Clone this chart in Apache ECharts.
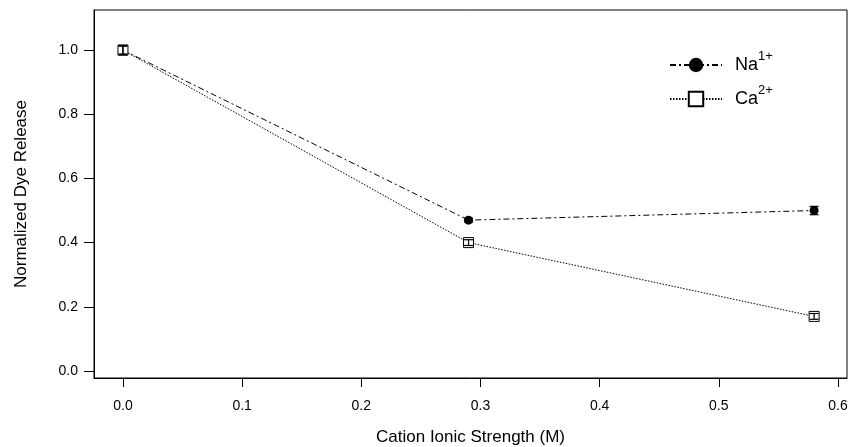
<!DOCTYPE html>
<html lang="en">
<head>
  <meta charset="utf-8">
  <title>Dye Release</title>
  <script src="https://cdn.jsdelivr.net/npm/echarts@6/dist/echarts.min.js"></script>
  <style>
    html, body { margin: 0; padding: 0; background: #fff; }
    #main { width: 853px; height: 447px; }
  </style>
</head>
<body>
  <div id="main"></div>
  <script>
    // data
    var ionicStrength = [0.0, 0.29, 0.58];
    var naRelease = [1.0, 0.47, 0.50];
    var naError = [0.015, 0.006, 0.013];
    var caRelease = [1.0, 0.40, 0.17];
    var caError = [0.012, 0.009, 0.009];
    var xTicks = [0.0, 0.1, 0.2, 0.3, 0.4, 0.5, 0.6];
    var yTicks = [0.0, 0.2, 0.4, 0.6, 0.8, 1.0];

    var myChart = echarts.init(document.getElementById('main'));
    var font = 'Liberation Sans';

    function pairs(ys) {
      return ionicStrength.map(function (x, i) { return [x, ys[i]]; });
    }
    function errData(ys, es) {
      return ionicStrength.map(function (x, i) { return [x, ys[i] - es[i], ys[i] + es[i]]; });
    }
    // error bars: vertical line with caps
    function errRender(params, api) {
      var lo = api.coord([api.value(0), api.value(1)]);
      var hi = api.coord([api.value(0), api.value(2)]);
      var w = 4.5;
      var st = { stroke: '#000', lineWidth: 1.2 };
      return {
        type: 'group',
        children: [
          { type: 'line', shape: { x1: lo[0], y1: lo[1], x2: hi[0], y2: hi[1] }, style: st },
          { type: 'line', shape: { x1: lo[0] - w, y1: lo[1], x2: lo[0] + w, y2: lo[1] }, style: st },
          { type: 'line', shape: { x1: hi[0] - w, y1: hi[1], x2: hi[0] + w, y2: hi[1] }, style: st }
        ]
      };
    }

    var option = {
      animation: false,
      backgroundColor: '#fff',
      grid: {
        left: 94, right: 6, top: 10, bottom: 69,
        outerBoundsMode: 'none', containLabel: false,
        show: true, borderColor: '#000', borderWidth: 1
      },
      legend: {
        orient: 'vertical',
        left: 664,
        top: 45,
        itemWidth: 52,
        itemHeight: 18,
        itemGap: 10,
        data: ['Na', 'Ca'],
        textStyle: {
          fontFamily: font, fontSize: 18, color: '#000', padding: [0, 0, 0, 8],
          rich: {
            b: { fontFamily: font, fontSize: 18, color: '#000', lineHeight: 30 },
            s: { fontFamily: font, fontSize: 13, color: '#000', lineHeight: 12, verticalAlign: 'top' }
          }
        },
        formatter: function (name) {
          return name === 'Na' ? '{b|Na}{s|1+}' : '{b|Ca}{s|2+}';
        }
      },
      xAxis: {
        type: 'value',
        min: -0.0243,
        max: 0.6076,
        name: 'Cation Ionic Strength (M)',
        nameLocation: 'middle',
        nameGap: 51,
        nameTextStyle: { fontFamily: font, fontSize: 17, color: '#000' },
        splitLine: { show: false },
        axisLine: { show: true, onZero: false, lineStyle: { color: '#000', width: 1 } },
        axisTick: { show: true, inside: false, length: 9, customValues: xTicks, lineStyle: { color: '#000' } },
        axisLabel: {
          customValues: xTicks, margin: 21, color: '#000', fontFamily: font, fontSize: 14,
          formatter: function (v) { return v.toFixed(1); }
        }
      },
      yAxis: {
        type: 'value',
        min: -0.022,
        max: 1.125,
        name: 'Normalized Dye Release',
        nameLocation: 'middle',
        nameGap: 64,
        nameTextStyle: { fontFamily: font, fontSize: 17, color: '#000' },
        splitLine: { show: false },
        axisLine: { show: true, onZero: false, lineStyle: { color: '#000', width: 1 } },
        axisTick: { show: true, inside: false, length: 10, customValues: yTicks, lineStyle: { color: '#000' } },
        axisLabel: {
          customValues: yTicks, margin: 16, color: '#000', fontFamily: font, fontSize: 14,
          formatter: function (v) { return v.toFixed(1); }
        }
      },
      series: [
        {
          name: 'Na',
          type: 'line',
          data: pairs(naRelease),
          symbol: 'circle',
          symbolSize: 9,
          showAllSymbol: true,
          itemStyle: { color: '#000' },
          lineStyle: { color: '#000', width: 1, type: [6, 3, 2, 3] },
          z: 3
        },
        {
          name: 'Ca',
          type: 'line',
          data: pairs(caRelease),
          symbol: 'rect',
          symbolSize: 10,
          itemStyle: { color: '#fff', borderColor: '#000', borderWidth: 1 },
          lineStyle: { color: '#000', width: 1, type: [1.5, 1.5] },
          z: 3
        },
        {
          type: 'custom',
          data: errData(naRelease, naError),
          renderItem: errRender,
          encode: { x: 0, y: [1, 2] },
          z: 4
        },
        {
          type: 'custom',
          data: errData(caRelease, caError),
          renderItem: errRender,
          encode: { x: 0, y: [1, 2] },
          z: 4
        }
      ]
    };
    myChart.setOption(option);
  </script>
</body>
</html>
